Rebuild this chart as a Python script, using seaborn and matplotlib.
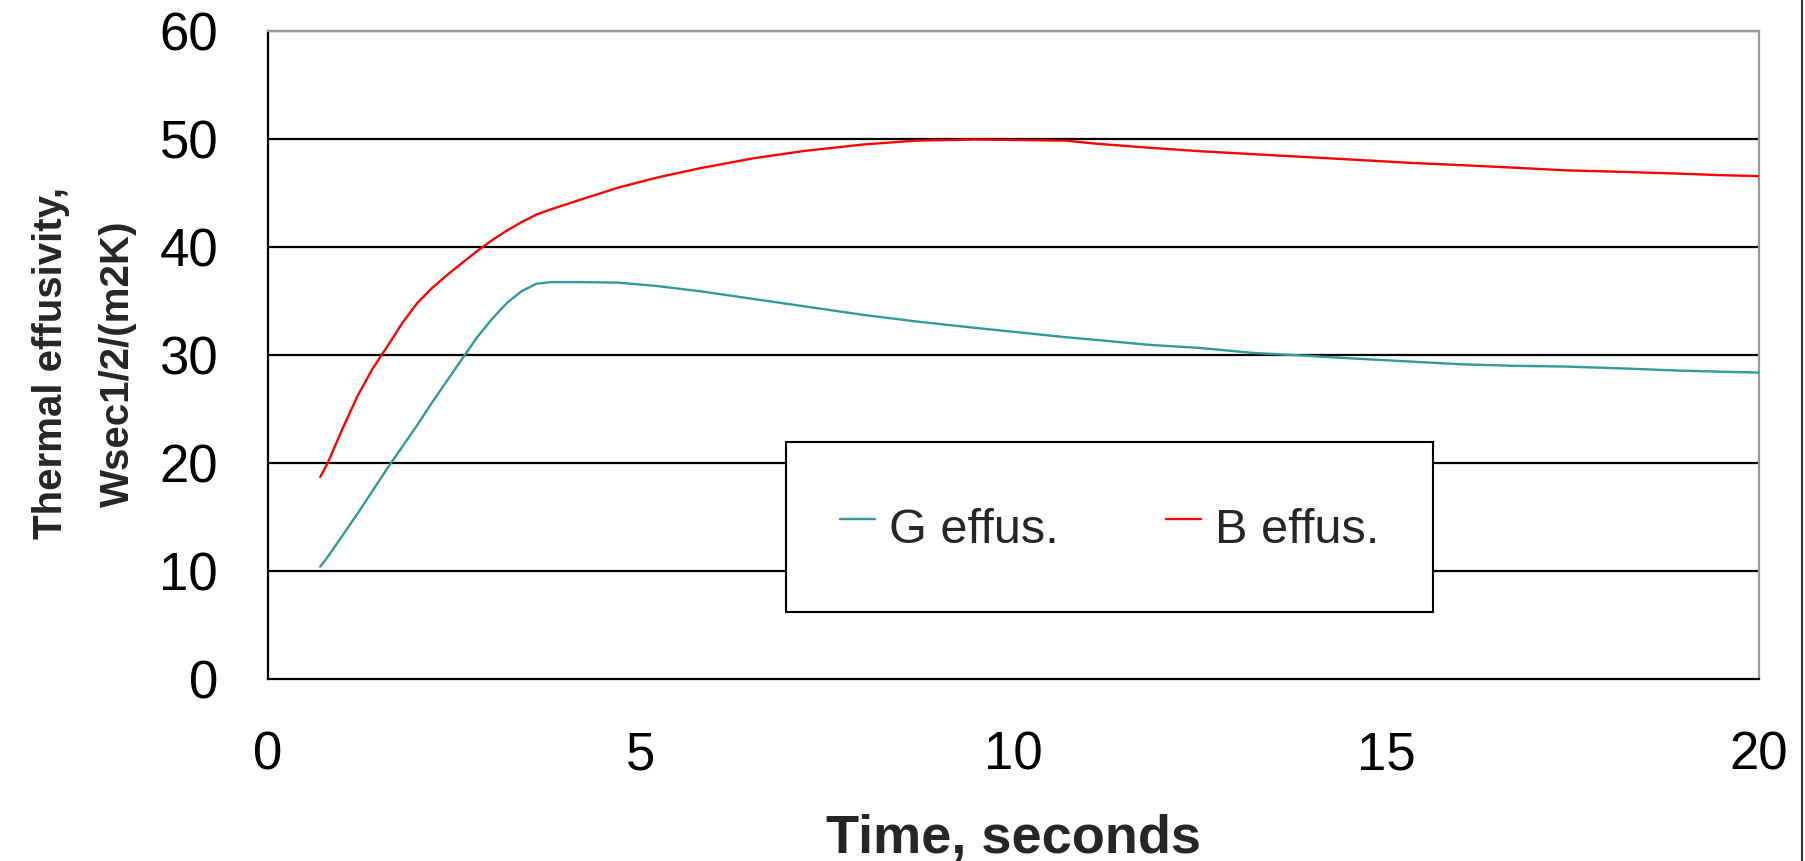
import matplotlib
matplotlib.use("Agg")
import matplotlib.pyplot as plt
from matplotlib.lines import Line2D
import seaborn as sns
import pandas as pd

sns.set_theme(style="white")
plt.rcParams["font.family"] = ["Liberation Sans", "DejaVu Sans"]

# time, seconds
время = [0.7, 0.8, 1.0, 1.2, 1.4, 1.6, 1.8, 2.0, 2.2, 2.4, 2.6, 2.8, 3.0,
         3.2, 3.4, 3.6, 3.8, 4.2, 4.7, 5.2, 5.8, 6.5, 7.2, 8.0, 8.7, 9.5,
         10.7, 11.1, 11.8, 12.5, 13.2, 14.0, 14.6, 15.3, 16.0, 16.7, 17.4,
         18.2, 18.9, 19.5, 20.0]

# G effus.
g_effus = [10.4, 11.3, 13.3, 15.3, 17.4, 19.5, 21.5, 23.5, 25.6, 27.6, 29.6,
           31.6, 33.3, 34.8, 35.9, 36.6, 36.75, 36.75, 36.7, 36.4, 35.9, 35.2,
           34.5, 33.7, 33.1, 32.5, 31.65, 31.4, 30.95, 30.65, 30.2, 29.9,
           29.66, 29.4, 29.14, 29.0, 28.93, 28.75, 28.56, 28.45, 28.37]

# B effus.
b_effus = [18.7, 20.0, 23.2, 26.2, 28.7, 30.8, 32.95, 34.8, 36.2, 37.4, 38.5,
           39.6, 40.6, 41.5, 42.3, 43.0, 43.5, 44.4, 45.5, 46.4, 47.3, 48.2,
           48.9, 49.5, 49.85, 49.95, 49.85, 49.57, 49.2, 48.87, 48.6, 48.3,
           48.07, 47.8, 47.58, 47.35, 47.1, 46.95, 46.8, 46.65, 46.56]

df = pd.DataFrame({"t": время, "G": g_effus, "B": b_effus})

fig = plt.figure(figsize=(18.05, 8.61), dpi=100)
ax = fig.add_axes([0.1485, 0.2114, 0.8260, 0.7526])

# horizontal grid only
for yv in range(10, 70, 10):
    ax.axhline(yv, color="black", linewidth=1.6, zorder=1)

sns.lineplot(data=df, x="t", y="G", ax=ax, color="#339999",
             linewidth=1.7, label="G effus.", zorder=3)
sns.lineplot(data=df, x="t", y="B", ax=ax, color="#FF0000",
             linewidth=1.7, label="B effus.", zorder=3)

ax.set_xlim(0, 20)
ax.set_ylim(0, 60)
ax.set_xticks([0, 5, 10, 15, 20])
ax.set_yticks(range(0, 70, 10))

ax.tick_params(axis="both", direction="out", length=12, width=1.2,
               color="black", labelsize=38, labelcolor="black")
ax.tick_params(axis="x", pad=25)
ax.tick_params(axis="y", pad=24)

for s in ["left", "bottom"]:
    ax.spines[s].set_color("black")
    ax.spines[s].set_linewidth(1.6)
for s in ["top", "right"]:
    ax.spines[s].set_color("#999999")
    ax.spines[s].set_linewidth(1.6)

ax.set_xlabel("Time, seconds", fontsize=39, fontweight="bold")
ax.xaxis.set_label_coords(0.5, -0.208)
ax.set_ylabel("Thermal effusivity,\nWsec1/2/(m2K)", fontsize=29,
              fontweight="bold", linespacing=1.95)
ax.yaxis.set_label_coords(-0.088, 0.487)

leg = ax.legend(loc="center", bbox_to_anchor=(0.5645, 0.2346), ncol=2,
                fontsize=35, frameon=True, fancybox=False, shadow=False,
                handlelength=0.72, handleheight=1.6, handletextpad=0.3,
                columnspacing=2.2, borderpad=1.1, borderaxespad=0)
leg.get_frame().set_edgecolor("black")
leg.get_frame().set_linewidth(1.5)
leg.get_frame().set_facecolor("white")
leg.get_frame().set_alpha(1)

# border on the right edge of the picture
fig.add_artist(Line2D([0.9985, 0.9985], [0, 1], color="#333333",
                      linewidth=1.5, transform=fig.transFigure))

fig.savefig("out.png", dpi=100)
